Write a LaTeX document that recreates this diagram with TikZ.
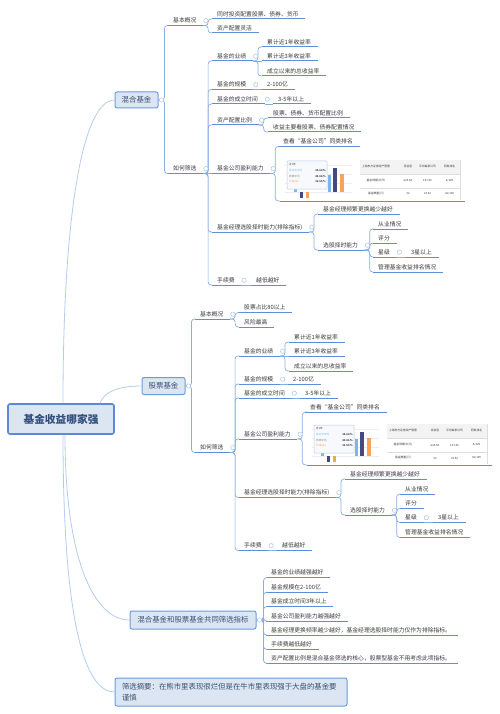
\documentclass[tikz,border=0pt]{standalone}
\usepackage{fontspec}
\setmainfont{Noto Sans CJK SC}
\usetikzlibrary{calc}
\definecolor{boxfill}{HTML}{DCE6F2}
\definecolor{boxline}{HTML}{6E9BDB}
\definecolor{rootline}{HTML}{5A8AD6}
\definecolor{boxtext}{HTML}{3A4F73}
\definecolor{rootc}{HTML}{33507E}
\definecolor{ulc}{HTML}{5B8FD6}
\definecolor{brkc}{HTML}{86AEE3}
\definecolor{curvec}{HTML}{B3CDEE}
\definecolor{leafc}{HTML}{3A3A3A}
\definecolor{knobc}{HTML}{A8C3E8}
\definecolor{gridc}{HTML}{EEEEEE}
\definecolor{barlb}{HTML}{7CB5EC}
\definecolor{barnv}{HTML}{434A7E}
\definecolor{baror}{HTML}{F7A35C}
\definecolor{tipline}{HTML}{B8CDE8}
\definecolor{tipfill}{HTML}{F7F9FC}
\definecolor{tabhead}{HTML}{F3F3F3}
\definecolor{tabline}{HTML}{DDDDDD}
\tikzset{
  topic/.style={font=\fontsize{5.8}{6}\selectfont, text=leafc, inner xsep=0pt, inner ysep=1.6pt,
    text height=4.6pt, text depth=1pt, anchor=south west,
    execute at begin node={\hspace*{5pt}}, execute at end node={\hspace*{6.5pt}}},
  ulstyle/.style={draw=ulc, line width=1pt},
  brkline/.style={draw=brkc, line width=0.7pt, rounded corners=3pt},
  curveline/.style={draw=curvec, line width=0.8pt},
  knob/.style={circle, draw=knobc, fill=white, line width=0.5pt, inner sep=0pt, minimum size=4.4pt},
  mbox/.style={draw=boxline, fill=boxfill, rounded corners=2pt, line width=1pt, text=boxtext,
    font=\fontsize{7.4}{8}\selectfont, inner sep=0pt},
  tt/.style={font=\fontsize{2.6}{3}\selectfont, inner sep=0pt, text=leafc},
  tb/.style={font=\fontsize{2.8}{3}\selectfont, inner sep=0pt, text=leafc},
}
\newcommand\tp[4]{\node[topic] (#1) at (#2-5,#3) {#4};\draw[ulstyle] (#1.south west) -- (#1.south east);}
\newcommand\kb[1]{\node[knob] (#1k) at ([xshift=2.8pt,yshift=4.8pt]#1.south east) {};}
\newcommand\lk[2]{\draw[brkline] (#1.south east) -- ++(5,0) |- (#2.south west);}
\newcommand\sk[2]{\draw[brkline] (#1.south east) -- (#2.south west);}
\newcommand\bl[2]{\draw[brkline] (#1.east) -- ++(6,0) |- (#2.south west);}
\newcommand\chartimg[3]{%
  \node[inner sep=0pt, minimum width=185pt, minimum height=44pt, anchor=south west] (#1) at (#2,#3) {};
  \begin{scope}[shift={(#1.south west)}]
    \foreach \gy in {-36,-27,-18,-9} \draw[draw=gridc, line width=0.3pt] (5,\gy) -- (72,\gy);
    \fill[barlb] (14,-16) rectangle (16.5,-9);
    \fill[barnv] (20,-9) rectangle (23,-3);
    \fill[baror] (26,-9) rectangle (29,-3);
    \fill[barlb] (47.5,-26) rectangle (50.5,-9);
    \fill[barnv] (53,-33) rectangle (57,-9);
    \fill[baror] (60,-27) rectangle (64,-9);
    \draw[draw=tipline, fill=tipfill, rounded corners=1pt, line width=0.5pt] (7,-40) rectangle (47,-12);
    \node[tt, anchor=west] at (9,-36) {近1年};
    \node[tt, anchor=west, text=barlb] at (9,-30) {本公司平均};
    \node[tt, anchor=east] at (46,-30) {\bfseries 34.64 \%};
    \node[tt, anchor=west, text=gray] at (9,-24.3) {同类平均};
    \node[tt, anchor=east] at (46,-24.3) {\bfseries 40.86 \%};
    \node[tt, anchor=west, text=baror] at (9,-19) {沪深300};
    \node[tt, anchor=east] at (46,-19) {\bfseries 31.55 \%};
    \fill[tabhead] (80,-41) rectangle (180,-27);
    \draw[draw=tabline, line width=0.3pt] (80,-27) -- (180,-27) (80,-13) -- (180,-13) (180,-41) -- (180,-1);
    \node[tb] at (96,-35) {上海东方证券资产管理};
    \node[tb] at (128,-35) {混合型};
    \node[tb] at (147.5,-35) {平均每家公司};
    \node[tb] at (169.5,-35) {同类排名};
    \node[tb] at (96,-20) {基金规模(亿元)};
    \node[tb] at (128,-20) {623.54};
    \node[tb] at (147.5,-20) {127.40};
    \node[tb] at (169.5,-20) {4/129};
    \node[tb] at (96,-7) {基金数量(只)};
    \node[tb] at (128,-7) {32};
    \node[tb] at (147.5,-7) {23.52};
    \node[tb] at (169.5,-7) {36/129};
  \end{scope}
  \draw[ulstyle] (#1.south west) -- (#1.south east);
}
\begin{document}
\begin{tikzpicture}[x=1pt,y=-1pt]
\useasboundingbox (0,0) rectangle (500,714);
\fill[white] (0,0) rectangle (500,714);

% ---------- boxes ----------
\node[mbox, minimum width=106pt, minimum height=30pt, line width=1.6pt, draw=rootline, text=rootc,
  font=\fontsize{10.7}{12}\selectfont\bfseries] (root) at (61,419) {基金收益哪家强};
\node[mbox, minimum width=43pt, minimum height=16pt] (mix) at (136.5,100) {混合基金};
\node[mbox, minimum width=43pt, minimum height=17pt] (stk) at (163.5,386) {股票基金};
\node[mbox, minimum width=126pt, minimum height=18pt] (com) at (193,620) {混合基金和股票基金共同筛选指标};
\node[mbox, minimum width=232pt, minimum height=28pt, text width=218pt, inner xsep=7pt, align=left,
  font=\fontsize{7.4}{10.4}\selectfont] (sum) at (231,692) {筛选摘要：在熊市里表现很烂但是在牛市里表现强于大盘的基金要\\谨慎};

% ---------- main curves ----------
\draw[curveline] ([xshift=2pt]root.north) .. controls +(0,-200) and +(-30,0) .. (mix.west);
\draw[curveline] ([xshift=39pt]root.north) .. controls +(4,-12) and +(-22,0) .. (stk.west);
\draw[curveline] ([xshift=4pt]root.south) .. controls +(0,126) and +(-35,0) .. (com.west);
\draw[curveline] ([xshift=2pt]root.south) .. controls +(0,186) and +(-30,0) .. (sum.west);

% ---------- mixed fund ----------
\tp{m1}{173}{25.5}{基本概况}
\tp{m11}{217}{19}{同时投资配置股票、债券、货币}
\tp{m12}{217}{33}{资产配置灵活}
\tp{m2}{173}{173.5}{如何筛选}
\tp{m21}{217}{61}{基金的业绩}
\tp{m211}{267}{47}{累计近1年收益率}
\tp{m212}{267}{61}{累计近3年收益率}
\tp{m213}{267}{76}{成立以来的总收益率}
\tp{m22}{217}{89.5}{基金的规模}
\tp{m221}{267}{89.5}{2-100亿}
\tp{m23}{217}{104}{基金的成立时间}
\tp{m231}{278}{104}{3-5年以上}
\tp{m24}{217}{125}{资产配置比例}
\tp{m241}{273}{118}{股票、债券、货币配置比例}
\tp{m242}{273}{132}{收益主要看股票、债券配置情况}
\tp{m25}{217}{173.5}{基金公司盈利能力}
\tp{m251}{283}{146.5}{查看“基金公司”同类排名}
\chartimg{m252}{280}{201}
\tp{m26}{217}{232}{基金经理选股择时能力(排除指标)}
\tp{m261}{323}{214}{基金经理频繁更换越少越好}
\tp{m262}{323}{250}{选股择时能力}
\tp{m2621}{378}{229}{从业情况}
\tp{m2622}{378}{243}{评分}
\tp{m2623}{378}{257}{星级}
\tp{m26231}{411}{257}{3星以上}
\tp{m2624}{378}{272}{管理基金收益排名情况}
\tp{m27}{217}{285}{手续费}
\tp{m271}{256}{285}{越低越好}

\bl{mix}{m1} \bl{mix}{m2}
\lk{m1}{m11} \lk{m1}{m12}
\lk{m2}{m21} \lk{m2}{m22} \lk{m2}{m23} \lk{m2}{m24} \sk{m2}{m25} \lk{m2}{m26} \lk{m2}{m27}
\lk{m21}{m211} \sk{m21}{m212} \lk{m21}{m213}
\sk{m22}{m221} \sk{m23}{m231}
\lk{m24}{m241} \lk{m24}{m242}
\lk{m25}{m251} \lk{m25}{m252}
\lk{m26}{m261} \lk{m26}{m262}
\lk{m262}{m2621} \lk{m262}{m2622} \lk{m262}{m2623} \lk{m262}{m2624}
\sk{m2623}{m26231}
\sk{m27}{m271}

% ---------- stock fund ----------
\tp{s1}{200}{319}{基本概况}
\tp{s11}{244}{312.5}{股票占比80以上}
\tp{s12}{244}{327}{风险最高}
\tp{s2}{200}{452.5}{如何筛选}
\tp{s21}{244}{356}{基金的业绩}
\tp{s211}{294}{342}{累计近1年收益率}
\tp{s212}{294}{356}{累计近3年收益率}
\tp{s213}{294}{371}{成立以来的总收益率}
\tp{s22}{244}{384}{基金的规模}
\tp{s221}{293}{384}{2-100亿}
\tp{s23}{244}{398}{基金的成立时间}
\tp{s231}{305}{398}{3-5年以上}
\tp{s25}{244}{439}{基金公司盈利能力}
\tp{s251}{310}{412}{查看“基金公司”同类排名}
\chartimg{s252}{307}{465}
\tp{s26}{244}{497.5}{基金经理选股择时能力(排除指标)}
\tp{s261}{350}{479}{基金经理频繁更换越少越好}
\tp{s262}{350}{515}{选股择时能力}
\tp{s2621}{405}{494}{从业情况}
\tp{s2622}{405}{508.5}{评分}
\tp{s2623}{405}{522.5}{星级}
\tp{s26231}{438}{522.5}{3星以上}
\tp{s2624}{405}{537.5}{管理基金收益排名情况}
\tp{s27}{244}{550.5}{手续费}
\tp{s271}{282}{550.5}{越低越好}

\bl{stk}{s1} \bl{stk}{s2}
\lk{s1}{s11} \lk{s1}{s12}
\lk{s2}{s21} \lk{s2}{s22} \lk{s2}{s23} \lk{s2}{s25} \lk{s2}{s26} \lk{s2}{s27}
\lk{s21}{s211} \sk{s21}{s212} \lk{s21}{s213}
\sk{s22}{s221} \sk{s23}{s231}
\lk{s25}{s251} \lk{s25}{s252}
\lk{s26}{s261} \lk{s26}{s262}
\lk{s262}{s2621} \lk{s262}{s2622} \lk{s262}{s2623} \lk{s262}{s2624}
\sk{s2623}{s26231}
\sk{s27}{s271}

% ---------- common ----------
\tp{c1}{271}{577.7}{基金的业绩越强越好}
\tp{c2}{271}{592.3}{基金规模在2-100亿}
\tp{c3}{271}{606.7}{基金成立时间3年以上}
\tp{c4}{271}{621}{基金公司盈利能力越强越好}
\tp{c5}{271}{635}{基金经理更换频率越少越好，基金经理选股择时能力仅作为排除指标。}
\tp{c6}{271}{649.3}{手续费越低越好}
\tp{c7}{271}{663.3}{资产配置比例是混合基金筛选的核心，股票型基金不用考虑此项指标。}
\foreach \c in {c1,c2,c3,c4,c5,c6,c7} {\draw[brkline] (com.east) -- ++(7,0) |- (\c.south west);}

% ---------- knobs ----------
\node[knob] (mixk) at ([xshift=3pt]mix.east) {};
\node[knob] (stkk) at ([xshift=3pt]stk.east) {};
\node[knob] (comk) at ([xshift=3pt]com.east) {};
\kb{m1} \kb{m2} \kb{m21} \kb{m22} \kb{m23} \kb{m24} \kb{m25} \kb{m26} \kb{m262} \kb{m2623} \kb{m27}
\kb{s1} \kb{s2} \kb{s21} \kb{s22} \kb{s23} \kb{s25} \kb{s26} \kb{s262} \kb{s2623} \kb{s27}
\end{tikzpicture}
\end{document}
